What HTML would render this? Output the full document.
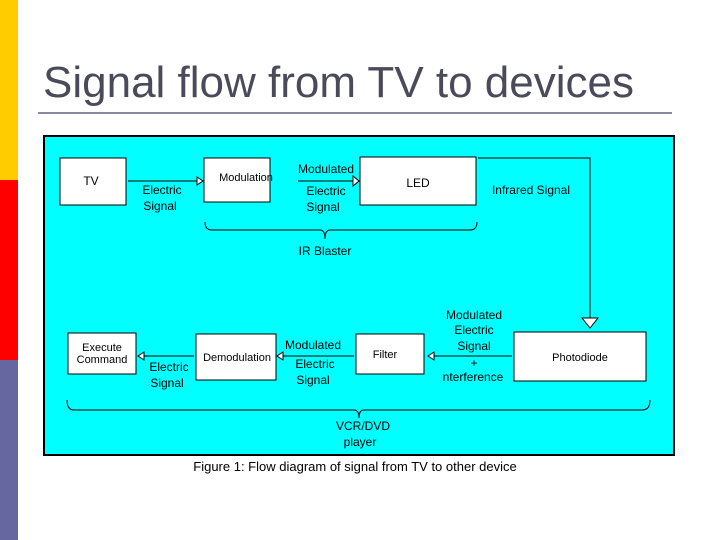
<!DOCTYPE html>
<html><head><style>
body{margin:0;width:720px;height:540px;background:#fff;position:relative;overflow:hidden;font-family:"Liberation Sans",sans-serif}
.b{position:absolute;left:0;width:18px}
</style></head><body>
<div class="b" style="top:0;height:180px;background:#ffcc00"></div>
<div class="b" style="top:180px;height:180px;background:#ff0000"></div>
<div class="b" style="top:360px;height:180px;background:#6666a0"></div>
<div style="position:absolute;left:43px;top:58px;font-size:44px;color:#4a4a5a">Signal flow from TV to devices</div>
<div style="position:absolute;left:38px;top:112px;width:634px;height:2px;background:#8888a0"></div>
<svg style="position:absolute;left:0;top:0" width="720" height="540" font-family="Liberation Sans, sans-serif">
<rect x="44" y="136" width="630" height="319" fill="#00ffff" stroke="#000" stroke-width="2"/>
<g fill="#fff" stroke="#000" stroke-width="1">
<rect x="60" y="158" width="66" height="47"/>
<rect x="204" y="158" width="66" height="44"/>
<rect x="360" y="157" width="116" height="48"/>
<rect x="68" y="333" width="68" height="41"/>
<rect x="196" y="334" width="80" height="46"/>
<rect x="356" y="334" width="68" height="40"/>
<rect x="514" y="332" width="132" height="49"/>
</g>
<g fill="none" stroke="#000" stroke-width="1">
<line x1="128" y1="181" x2="198" y2="181"/><path d="M197,177 L203,181 L197,185 Z" fill="#fff"/>
<line x1="298" y1="181" x2="354" y2="181"/><path d="M353,176 L359,181 L353,186 Z" fill="#fff"/>
<polyline points="478,158 590,158 590,318"/><path d="M582,318 L598,318 L590,328 Z" fill="#fff"/>
<path d="M205,222 Q205,230 212,230 L320,230 Q325,230 325,239 Q325,230 330,230 L470,230 Q477,230 477,222"/>
<line x1="434" y1="356" x2="512" y2="356"/><path d="M434,352 L428,356 L434,360 Z" fill="#fff"/>
<line x1="283" y1="356" x2="354" y2="356"/><path d="M283,352 L277,356 L283,360 Z" fill="#fff"/>
<line x1="144" y1="356" x2="194" y2="356"/><path d="M144,352 L138,356 L144,360 Z" fill="#fff"/>
<path d="M67,400 Q67,410 74,410 L354,410 Q359,410 359,418 Q359,410 364,410 L642,410 Q650,410 650,400"/>
</g>
<g font-size="12" fill="#000" text-anchor="middle">
<text x="91" y="185">TV</text>
<text x="246" y="181" font-size="11">Modulation</text>
<text x="418" y="187">LED</text>
<text x="102" y="351" font-size="11">Execute</text><text x="102" y="363" font-size="11">Command</text>
<text x="237" y="361" font-size="11">Demodulation</text>
<text x="385" y="358" font-size="11">Filter</text>
<text x="580" y="361" font-size="11">Photodiode</text>
<text x="162" y="194">Electric</text><text x="160" y="210">Signal</text>
<text x="326" y="173">Modulated</text>
<text x="326" y="195">Electric</text><text x="323" y="211">Signal</text>
<text x="531" y="194">Infrared Signal</text>
<text x="325" y="255">IR Blaster</text>
<text x="474" y="319">Modulated</text><text x="474" y="334">Electric</text><text x="474" y="350">Signal</text>
<text x="474" y="367">+</text><text x="473" y="381">nterference</text>
<text x="313" y="349">Modulated</text><text x="315" y="368">Electric</text><text x="313" y="384">Signal</text>
<text x="169" y="371">Electric</text><text x="167" y="387">Signal</text>
<text x="363" y="430">VCR/DVD</text><text x="360" y="446">player</text>
<text x="355" y="471" font-size="13">Figure 1: Flow diagram of signal from TV to other device</text>
</g>
</svg>
</body></html>
